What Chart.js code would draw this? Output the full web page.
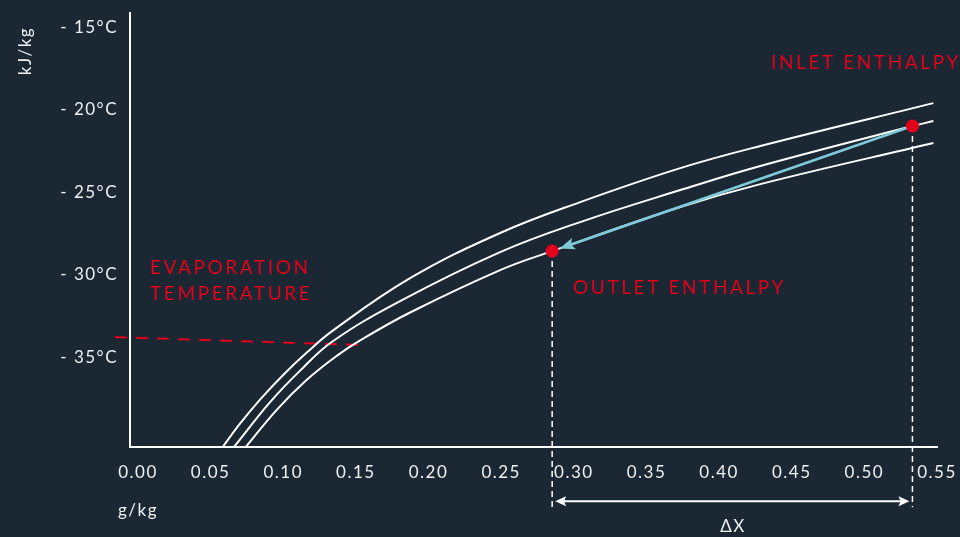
<!DOCTYPE html>
<html><head><meta charset="utf-8">
<script src="https://cdn.jsdelivr.net/npm/chart.js@4/dist/chart.umd.min.js"></script>
<style>html,body{margin:0;padding:0;background:#1b2733;overflow:hidden}#wrap{width:960px;height:537px}</style>
</head><body><div id="wrap"><canvas id="c" width="960" height="537"></canvas></div>
<script>
// ---- data ----
const xTicks = [0.00,0.05,0.10,0.15,0.20,0.25,0.30,0.35,0.40,0.45,0.50,0.55];
const yTicks = [-15,-20,-25,-30,-35];
const curve1X = [0.0583,0.0702,0.0840,0.1001,0.1162,0.1334,0.1873,0.2493,0.3044,0.3733,0.4284,0.5475];
const curve1Y = [-40.45,-39.04,-37.58,-36.07,-34.73,-33.44,-30.22,-27.48,-25.61,-23.55,-22.21,-19.61];
const curve2X = [0.0661,0.0909,0.1116,0.1336,0.1804,0.2493,0.3044,0.3733,0.4284,0.5331,0.5475];
const curve2Y = [-40.45,-37.73,-35.82,-34.07,-31.61,-28.64,-26.82,-24.88,-23.42,-21.00,-20.70];
const curve3X = [0.0742,0.0955,0.1162,0.1368,0.1529,0.1873,0.2493,0.2851,0.3733,0.4284,0.5475];
const curve3Y = [-40.45,-38.20,-36.38,-34.93,-33.99,-32.30,-29.73,-28.58,-25.91,-24.52,-22.03];
const statePointX = [0.2851, 0.5331];   // outlet, inlet
const statePointY = [-28.58, -21.00];
const evapLineX = [-0.0158, 0.1529];
const evapLineY = [-33.79, -34.27];
const dropBottomY = -44.1;
const deltaArrowY = -43.73;
const labels = {
  inlet: 'INLET ENTHALPY', outlet: 'OUTLET ENTHALPY',
  evap1: 'EVAPORATION', evap2: 'TEMPERATURE', delta: 'ΔX',
  yTitle: 'kJ/kg', xTitle: 'g/kg'
};

const zip = (xs, ys) => xs.map((x, i) => ({x, y: ys[i]}));
const RED = '#e2001a', BLUE = '#7ecadb', WHITE = '#ffffff', TXT = '#eef1f3';
const outlet = {x: statePointX[0], y: statePointY[0]};
const inlet = {x: statePointX[1], y: statePointY[1]};

const curveStyle = {showLine: true, borderColor: WHITE, borderWidth: 2, pointRadius: 0, tension: 0.4, fill: false};

function arrowHead(ctx, tx, ty, ux, uy, len, half) {
  ctx.beginPath();
  ctx.moveTo(tx, ty);
  ctx.lineTo(tx - ux*len - uy*half, ty - uy*len + ux*half);
  ctx.lineTo(tx - ux*len*0.8, ty - uy*len*0.8);
  ctx.lineTo(tx - ux*len + uy*half, ty - uy*len - ux*half);
  ctx.closePath();
  ctx.fill();
}

const annot = {
  id: 'annot',
  beforeDraw(chart) { chart.ctx.letterSpacing = '1.5px'; },
  afterDatasetDraw(chart, args) {
    if (args.index !== 1) return;
    const {ctx, scales: {x, y}} = chart;
    const x0 = x.getPixelForValue(inlet.x), y0 = y.getPixelForValue(inlet.y);
    const x1 = x.getPixelForValue(outlet.x), y1 = y.getPixelForValue(outlet.y);
    const dx = x1 - x0, dy = y1 - y0, L = Math.hypot(dx, dy);
    const ux = dx / L, uy = dy / L;
    const tx = x1 - ux*8, ty = y1 - uy*8;
    ctx.save();
    ctx.strokeStyle = BLUE; ctx.fillStyle = BLUE; ctx.lineWidth = 2.5;
    ctx.beginPath(); ctx.moveTo(x0, y0); ctx.lineTo(tx - ux*10, ty - uy*10); ctx.stroke();
    arrowHead(ctx, tx, ty, ux, uy, 15, 6);
    ctx.restore();
  },
  afterDraw(chart) {
    const {ctx, scales: {x, y}} = chart;
    ctx.save();
    // delta X arrow
    const ax0 = x.getPixelForValue(outlet.x) + 3, ax1 = x.getPixelForValue(inlet.x) - 3;
    const ay = y.getPixelForValue(deltaArrowY);
    ctx.strokeStyle = WHITE; ctx.fillStyle = WHITE; ctx.lineWidth = 2;
    ctx.beginPath(); ctx.moveTo(ax0 + 8, ay); ctx.lineTo(ax1 - 8, ay); ctx.stroke();
    arrowHead(ctx, ax0, ay, -1, 0, 11, 5);
    arrowHead(ctx, ax1, ay, 1, 0, 11, 5);
    // red labels
    ctx.letterSpacing = '2.6px';
    ctx.fillStyle = RED;
    ctx.font = '19px Lato';
    ctx.textBaseline = 'middle'; ctx.textAlign = 'left';
    ctx.fillText(labels.inlet, 771, 63);
    ctx.fillText(labels.outlet, 573, 288);
    ctx.fillText(labels.evap1, 150, 268);
    ctx.fillText(labels.evap2, 150, 294);
    // titles
    ctx.letterSpacing = '1.5px';
    ctx.fillStyle = TXT;
    ctx.font = '17px Lato';
    ctx.fillText(labels.xTitle, 118, 511);
    ctx.textAlign = 'center';
    ctx.fillText(labels.delta, 733, 527);
    ctx.translate(26, 51); ctx.rotate(-Math.PI/2);
    ctx.fillText(labels.yTitle, 0, 0);
    ctx.restore();
    chart.ctx.letterSpacing = '1.5px';
  }
};

new Chart(document.getElementById('c'), {
  type: 'scatter',
  data: {
    datasets: [
      {data: zip(statePointX, statePointY), pointRadius: 6.5, pointHoverRadius: 6.5, backgroundColor: RED, borderWidth: 0, showLine: false},
      {data: zip(curve1X, curve1Y), ...curveStyle},
      {data: zip(curve2X, curve2Y), ...curveStyle},
      {data: zip(curve3X, curve3Y), ...curveStyle},
      {data: zip(evapLineX, evapLineY), showLine: true, borderColor: RED, borderWidth: 2, borderDash: [12, 9], pointRadius: 0, clip: false},
      {data: [{x: outlet.x, y: outlet.y}, {x: outlet.x, y: dropBottomY}], showLine: true, borderColor: WHITE, borderWidth: 1.5, borderDash: [6, 4], pointRadius: 0, clip: false},
      {data: [{x: inlet.x, y: inlet.y}, {x: inlet.x, y: dropBottomY}], showLine: true, borderColor: WHITE, borderWidth: 1.5, borderDash: [6, 4], pointRadius: 0, clip: false}
    ]
  },
  options: {
    responsive: false, animation: false, devicePixelRatio: 1,
    layout: {padding: {left: 0, right: 23, top: 13, bottom: 0}},
    plugins: {legend: {display: false}, tooltip: {enabled: false}},
    events: [],
    scales: {
      x: {
        type: 'linear', min: -0.0055, max: 0.55,
        afterBuildTicks: s => { s.ticks = xTicks.map(v => ({value: v})); },
        afterFit: s => { s.height = 90; s.paddingLeft = 0; s.paddingRight = 0; },
        grid: {display: false, drawTicks: false},
        border: {display: true, color: WHITE, width: 2},
        ticks: {color: TXT, font: {family: 'Lato', size: 17}, padding: 15, maxRotation: 0, autoSkip: false,
                callback: v => Number(v).toFixed(2)}
      },
      y: {
        type: 'linear', min: -40.45, max: -14.15,
        afterBuildTicks: s => { s.ticks = yTicks.map(v => ({value: v})); },
        afterFit: s => { s.width = 130; s.paddingTop = 0; s.paddingBottom = 0; },
        grid: {display: false, drawTicks: false},
        border: {display: true, color: WHITE, width: 2},
        ticks: {color: TXT, font: {family: 'Lato', size: 17}, padding: 12,
                callback: v => '- ' + Math.abs(v) + '°C'}
      }
    }
  },
  plugins: [annot]
});
</script></body></html>
